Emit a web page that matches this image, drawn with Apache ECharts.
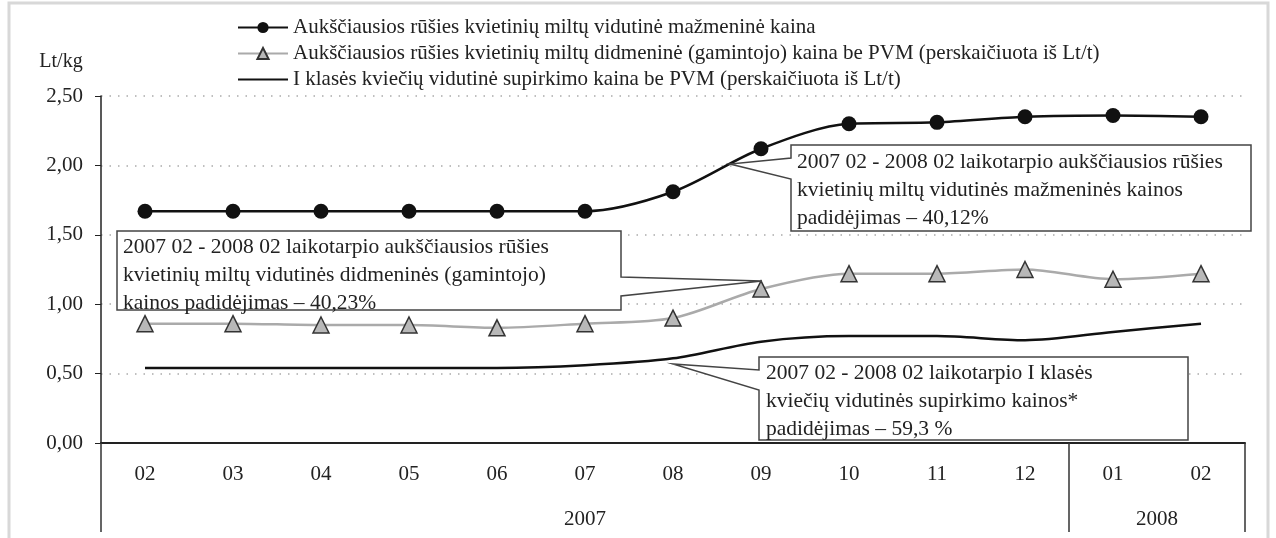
<!DOCTYPE html>
<html>
<head>
<meta charset="utf-8">
<script src="https://cdn.jsdelivr.net/npm/echarts@6/dist/echarts.min.js"></script>
<style>
html, body { margin: 0; padding: 0; background: #fff; }
#chart { width: 1276px; height: 538px; }
</style>
</head>
<body>
<div id="chart"></div>
<script>
// month labels and the years they belong to
const months = ['02', '03', '04', '05', '06', '07', '08', '09', '10', '11', '12', '01', '02'];
const years = ['2007', '2008'];
const yearMonthCounts = [11, 2];

const seriesNames = [
    'Aukščiausios rūšies kvietinių miltų vidutinė mažmeninė kaina',
    'Aukščiausios rūšies kvietinių miltų didmeninė (gamintojo) kaina be PVM (perskaičiuota iš Lt/t)',
    'I klasės kviečių vidutinė supirkimo kaina be PVM (perskaičiuota iš Lt/t)'
];
const retailPrice = [1.67, 1.67, 1.67, 1.67, 1.67, 1.67, 1.81, 2.12, 2.30, 2.31, 2.35, 2.36, 2.35];
const wholesalePrice = [0.86, 0.86, 0.85, 0.85, 0.83, 0.86, 0.90, 1.11, 1.22, 1.22, 1.25, 1.18, 1.22];
const purchasePrice = [0.54, 0.54, 0.54, 0.54, 0.54, 0.56, 0.61, 0.73, 0.77, 0.77, 0.74, 0.80, 0.86];

const notes = [
    '2007 02 - 2008 02 laikotarpio aukščiausios rūšies\nkvietinių miltų vidutinės mažmeninės kainos\npadidėjimas – 40,12%',
    '2007 02 - 2008 02 laikotarpio aukščiausios rūšies\nkvietinių miltų vidutinės didmeninės (gamintojo)\nkainos padidėjimas – 40,23%',
    '2007 02 - 2008 02 laikotarpio I klasės\nkviečių vidutinės supirkimo kainos*\npadidėjimas – 59,3 %'
];

// year row: half-month steps so the dividers and year labels can sit on ticks
const yearSlots = [];
const yearBounds = [0];
const yearCenters = {};
let pos = 0;
for (let i = 0; i <= months.length * 2; i++) yearSlots.push('');
years.forEach((y, i) => {
    const w = yearMonthCounts[i] * 2;
    yearCenters[pos + w / 2] = true;
    yearSlots[pos + w / 2] = y;
    pos += w;
    yearBounds.push(pos);
});

const font = 'Liberation Serif';
const textColor = '#222';

function callout(points, text, x, y) {
    return [
        {
            type: 'polygon',
            z: 100,
            shape: { points: points },
            style: { fill: '#fff', stroke: '#444', lineWidth: 1.5 }
        },
        {
            type: 'text',
            z: 101,
            x: x,
            y: y,
            style: {
                text: text,
                fontFamily: font,
                fontSize: 21.5,
                lineHeight: 28,
                fill: textColor
            }
        }
    ];
}

const chart = echarts.init(document.getElementById('chart'));
chart.setOption({
    animation: false,
    textStyle: { fontFamily: font, color: textColor },
    grid: { left: 101, right: 31, top: 96, bottom: 95 },
    legend: {
        orient: 'vertical',
        left: 232,
        top: 12,
        itemWidth: 50,
        itemHeight: 14,
        itemGap: 5,
        textStyle: { fontFamily: font, fontSize: 21, color: textColor },
        data: [
            seriesNames[0],
            seriesNames[1],
            { name: seriesNames[2], itemStyle: { opacity: 0 } }
        ]
    },
    xAxis: [
        {
            type: 'category',
            position: 'bottom',
            data: months,
            axisLine: { lineStyle: { color: '#222', width: 2 } },
            axisTick: { interval: 0, length: 45, lineStyle: { color: '#333', width: 1.5 } },
            axisLabel: { interval: 0, margin: 21, fontSize: 21, color: textColor }
        },
        {
            type: 'category',
            position: 'bottom',
            boundaryGap: false,
            data: yearSlots,
            axisLine: { show: false },
            axisTick: {
                length: 89,
                interval: index => yearBounds.indexOf(index) >= 0,
                lineStyle: { color: '#333', width: 1.5 }
            },
            axisLabel: {
                margin: 66,
                fontSize: 21,
                color: textColor,
                interval: index => !!yearCenters[index]
            }
        }
    ],
    yAxis: {
        type: 'value',
        name: 'Lt/kg',
        nameLocation: 'end',
        nameGap: 24,
        nameTextStyle: { fontSize: 20, color: textColor, padding: [0, 80, 0, 0] },
        min: 0,
        max: 2.5,
        interval: 0.5,
        axisLine: { show: true, lineStyle: { color: '#222', width: 1.5 } },
        axisTick: { show: true, length: 6, lineStyle: { color: '#222' } },
        axisLabel: {
            margin: 18,
            fontSize: 21,
            color: textColor,
            formatter: v => v.toFixed(2).replace('.', ',')
        },
        splitLine: { lineStyle: { color: '#aaa', width: 1.5, type: [1.5, 7] } }
    },
    series: [
        {
            name: seriesNames[0],
            type: 'line',
            smooth: 0.3,
            data: retailPrice,
            symbol: 'circle',
            symbolSize: 15,
            itemStyle: { color: '#111' },
            lineStyle: { color: '#111', width: 2.5 }
        },
        {
            name: seriesNames[1],
            type: 'line',
            smooth: 0.3,
            data: wholesalePrice,
            symbol: 'triangle',
            symbolSize: 16,
            itemStyle: { color: '#b8b8b8', borderColor: '#333', borderWidth: 1.5 },
            lineStyle: { color: '#aaa', width: 2.5 }
        },
        {
            name: seriesNames[2],
            type: 'line',
            smooth: 0.3,
            data: purchasePrice,
            symbol: 'none',
            itemStyle: { color: '#111' },
            lineStyle: { color: '#111', width: 2.5 }
        }
    ],
    graphic: [
        {
            type: 'rect',
            z: -1,
            shape: { x: 9, y: 3, width: 1259, height: 600 },
            style: { fill: null, stroke: '#d8d8d8', lineWidth: 3 }
        }
    ].concat(
        callout([[791, 145], [1251, 145], [1251, 231], [791, 231], [791, 179], [730, 164], [791, 158]], notes[0], 797, 148),
        callout([[117, 231], [621, 231], [621, 277], [762, 281], [621, 296], [621, 310], [117, 310]], notes[1], 123, 233),
        callout([[759, 357], [1188, 357], [1188, 440], [759, 440], [759, 390], [673, 364], [759, 370]], notes[2], 766, 359)
    )
});
</script>
</body>
</html>
